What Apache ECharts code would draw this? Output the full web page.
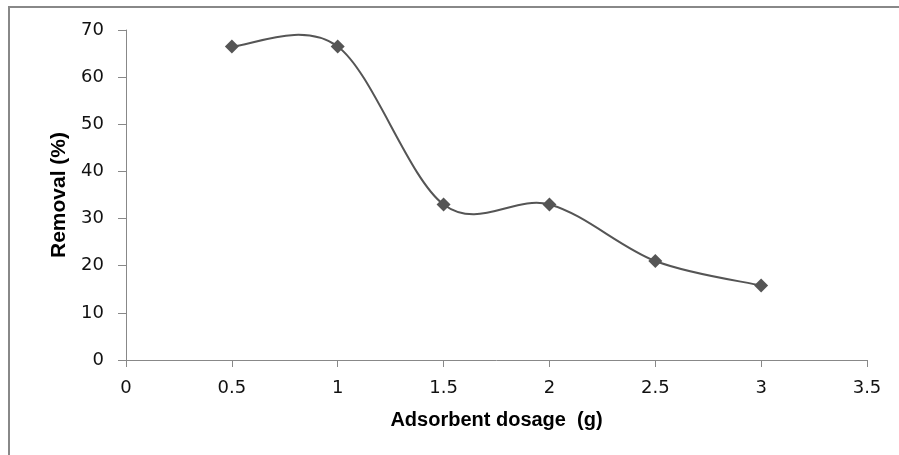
<!DOCTYPE html>
<html>
<head>
<meta charset="utf-8">
<script src="https://cdn.jsdelivr.net/npm/echarts@6/dist/echarts.min.js"></script>
<style>
html,body{margin:0;padding:0;background:#fff;}
#frame{position:absolute;left:8px;top:6px;width:900px;height:460px;border-left:2px solid #888;border-top:2px solid #888;box-sizing:border-box;}
#chart{position:absolute;left:0;top:0;width:899px;height:455px;}
</style>
</head>
<body>
<div id="frame"></div>
<div id="chart"></div>
<script>
const dosage = [0.5, 1, 1.5, 2, 2.5, 3];
const removal = [66.5, 66.5, 33, 33, 21, 15.8];
const xAxisName = 'Adsorbent dosage  (g)';
const yAxisName = 'Removal (%)';

const chart = echarts.init(document.getElementById('chart'));
const font = 'DejaVu Sans';
const points = dosage.map((x, i) => [x, removal[i]]);
const lineColor = '#555555';

chart.setOption({
  animation: false,
  grid: {left: 126, right: 32, top: 30, bottom: 95},
  xAxis: {
    type: 'value', min: 0, max: 3.5, interval: 0.5,
    name: xAxisName, nameLocation: 'middle', nameGap: 50,
    nameTextStyle: {fontFamily: 'Liberation Sans', fontWeight: 'bold', fontSize: 20, color: '#000'},
    axisLine: {show: true, lineStyle: {color: '#888', width: 1}},
    axisTick: {show: true, length: 7, lineStyle: {color: '#888'}},
    axisLabel: {fontFamily: font, fontSize: 18, color: '#111', margin: 19},
    splitLine: {show: false}
  },
  yAxis: {
    type: 'value', min: 0, max: 70, interval: 10,
    name: yAxisName, nameLocation: 'middle', nameGap: 56,
    nameTextStyle: {fontFamily: 'Liberation Sans', fontWeight: 'bold', fontSize: 21, color: '#000'},
    axisLine: {show: true, lineStyle: {color: '#888', width: 1}},
    axisTick: {show: true, length: 8, lineStyle: {color: '#888'}},
    axisLabel: {fontFamily: font, fontSize: 18, color: '#111', margin: 22},
    splitLine: {show: false}
  },
  series: [{
    type: 'custom',
    data: points.slice(0, points.length - 1).map((p, i) => [p[0], p[1], i]),
    encode: {x: 0, y: 1},
    z: 2,
    renderItem: function (params, api) {
      const i = api.value(2);
      const c = points.map(p => api.coord(p));
      const p0 = c[Math.max(i - 1, 0)], p1 = c[i], p2 = c[i + 1], p3 = c[Math.min(i + 2, c.length - 1)];
      const t = 1 / 6;
      return {
        type: 'bezierCurve',
        shape: {
          x1: p1[0], y1: p1[1],
          cpx1: p1[0] + (p2[0] - p0[0]) * t, cpy1: p1[1] + (p2[1] - p0[1]) * t,
          cpx2: p2[0] - (p3[0] - p1[0]) * t, cpy2: p2[1] - (p3[1] - p1[1]) * t,
          x2: p2[0], y2: p2[1]
        },
        style: {stroke: lineColor, lineWidth: 2, fill: null}
      };
    }
  }, {
    type: 'scatter',
    data: points,
    symbol: 'diamond',
    symbolSize: 14,
    z: 3,
    itemStyle: {color: lineColor, opacity: 1}
  }]
});
</script>
</body>
</html>
